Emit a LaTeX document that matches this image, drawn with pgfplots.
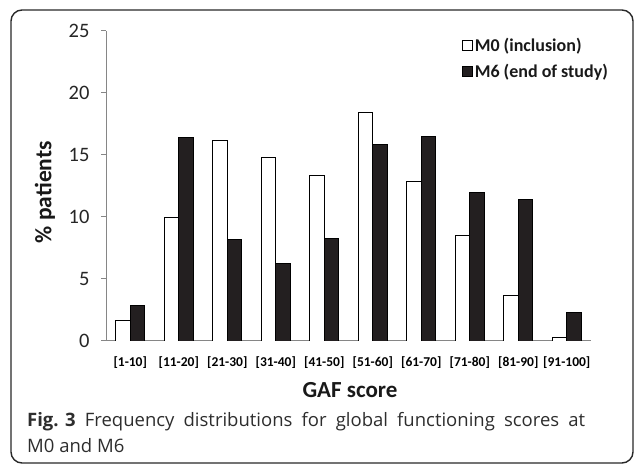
\documentclass[border=0pt]{standalone}
\usepackage{pgfplots}
\pgfplotsset{compat=1.18}
\usepackage{fontspec}
\setmainfont{Carlito}
\newfontfamily\capfont{Open Sans}
\definecolor{axisgray}{RGB}{134,134,134}
\definecolor{barblack}{RGB}{35,31,32}
\definecolor{boxline}{RGB}{40,40,40}
\definecolor{captext}{RGB}{45,45,45}

\begin{document}
\begin{tikzpicture}
\useasboundingbox (0pt,0pt) rectangle (635pt,465pt);
\draw[boxline, line width=1.4pt, rounded corners=11pt] (11pt,2pt) rectangle (633pt,455pt);

\begin{axis}[
  at={(106pt,124pt)}, anchor=south west,
  scale only axis, width=485pt, height=310pt,
  ybar=0pt, bar width=14.5pt,
  xmin=0.5, xmax=10.5, ymin=0, ymax=25,
  axis x line=bottom, axis y line=left,
  axis line style={-, axisgray, line width=1pt},
  tick align=outside,
  major tick length=5pt, minor tick length=5pt,
  xtick={1,...,10},
  xticklabels={{[1-10]},{[11-20]},{[21-30]},{[31-40]},{[41-50]},{[51-60]},{[61-70]},{[71-80]},{[81-90]},{[91-100]}},
  xtick style={draw=none},
  minor xtick={0.5,1.5,...,10.5},
  minor x tick style={axisgray, line width=1pt},
  ytick={0,5,...,25},
  ytick style={axisgray, line width=1pt},
  /pgf/number format/assume math mode=true,
  xticklabel style={font=\fontsize{13.5}{15}\selectfont\bfseries, text=black, anchor=base, yshift=-21pt},
  yticklabel style={font=\fontsize{20.5}{22}\selectfont, text=black!85, xshift=-8pt},
  xlabel={GAF score},
  ylabel={\% patients},
  xlabel style={font=\fontsize{23}{26}\selectfont\bfseries, text=black!90, at={(axis description cs:0.503,-0.181)}, anchor=base},
  ylabel style={font=\fontsize{23.5}{25}\selectfont\bfseries, text=black!90, at={(axis description cs:-0.126,0.48)}, anchor=center},
  legend style={draw=none, fill=none, at={(axis description cs:0.734,0.985)}, anchor=north west,
    font=\fontsize{18}{20}\selectfont\bfseries, text=black!90, inner sep=0pt, row sep=7pt,
    /tikz/every even column/.append style={column sep=5pt}},
  legend image code/.code={\draw[#1, draw=black, line width=0.6pt] (0pt,-4.8pt) rectangle (10pt,4.8pt);},
  legend cell align=left,
]
\addplot[fill=white, draw=black, line width=0.8pt] coordinates {
  (1,1.65) (2,10.0) (3,16.15) (4,14.8) (5,13.35)
  (6,18.45) (7,12.85) (8,8.5) (9,3.65) (10,0.3)
};
\addplot[fill=barblack, draw=black, line width=0.8pt] coordinates {
  (1,2.9) (2,16.4) (3,8.2) (4,6.25) (5,8.3)
  (6,15.85) (7,16.5) (8,11.95) (9,11.45) (10,2.3)
};
\legend{M0 (inclusion), M6 (end of study)}
\end{axis}

\node[anchor=base west, inner sep=0pt, font=\capfont\fontsize{18.5}{22}\selectfont, text=captext] at (27pt,38.3pt)
  {\makebox[558pt][s]{\hbox{\textbf{Fig. 3}} Frequency distributions for global functioning scores at}};
\node[anchor=base west, inner sep=0pt, font=\capfont\fontsize{18.5}{22}\selectfont, text=captext] at (27pt,12.3pt)
  {M0 and M6};
\end{tikzpicture}
\end{document}
